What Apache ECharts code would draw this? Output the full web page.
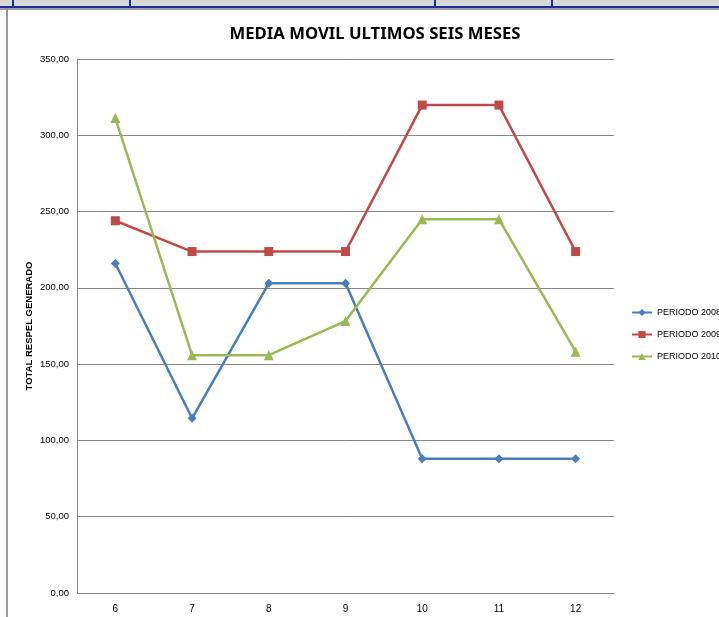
<!DOCTYPE html>
<html>
<head>
<meta charset="utf-8">
<style>
  html, body { margin: 0; padding: 0; background: #ffffff; }
  #chart { width: 719px; height: 617px; }
</style>
<script src="https://cdn.jsdelivr.net/npm/echarts@6/dist/echarts.min.js"></script>
</head>
<body>
<div id="chart"></div>
<script>
// Months (x axis)
const months = ['6', '7', '8', '9', '10', '11', '12'];

// Moving-average totals per period
const periodo2008 = [216.0, 114.5, 203.0, 203.0, 88.0, 88.0, 88.0];
const periodo2009 = [244.0, 223.8, 223.8, 223.8, 319.8, 319.8, 223.8];
const periodo2010 = [311.3, 155.9, 155.9, 178.2, 245.0, 245.0, 158.2];

const seriesNames = ['PERIODO 2008', 'PERIODO 2009', 'PERIODO 2010'];
const seriesColors = ['#4a7ebb', '#be4b48', '#98b954'];
const seriesSymbols = ['diamond', 'rect', 'triangle'];
const seriesSymbolSizes = [9, 9, 10];

const chart = echarts.init(document.getElementById('chart'), null, { renderer: 'canvas' });

const fmt = v => v.toFixed(2).replace('.', ',');

const option = {
  backgroundColor: '#ffffff',
  animation: false,
  title: {
    text: 'MEDIA MOVIL ULTIMOS SEIS MESES',
    left: 370,
    top: 21,
    textAlign: 'center',
    textStyle: {
      fontFamily: 'Noto Sans',
      fontWeight: 'bold',
      fontSize: 16.7,
      color: '#000000'
    }
  },
  legend: {
    orient: 'vertical',
    left: 626,
    top: 303,
    itemGap: 13,
    itemWidth: 20,
    itemHeight: 9,
    textStyle: { fontFamily: 'Liberation Sans', fontSize: 9, color: '#000000' },
    data: seriesNames
  },
  grid: { left: 77, top: 59, width: 537, height: 534 },
  xAxis: {
    type: 'category',
    data: months,
    boundaryGap: true,
    axisLine: { lineStyle: { color: '#888888', width: 1 } },
    axisTick: { show: false },
    axisLabel: { fontFamily: 'Liberation Sans', fontSize: 10, color: '#000000', margin: 11 },
    splitLine: { show: false }
  },
  yAxis: {
    type: 'value',
    min: 0,
    max: 350,
    interval: 50,
    name: 'TOTAL RESPEL GENERADO',
    nameLocation: 'middle',
    nameGap: 43,
    nameMoveOverlap: false,
    nameTextStyle: { fontFamily: 'Liberation Sans', fontWeight: 'bold', fontSize: 9.5, color: '#000000' },
    axisLine: { show: true, lineStyle: { color: '#888888', width: 1 } },
    axisTick: { show: false },
    axisLabel: { fontFamily: 'Liberation Sans', fontSize: 9.5, color: '#000000', margin: 8, formatter: fmt },
    splitLine: { lineStyle: { color: '#888888', width: 1 } }
  },
  graphic: [
    // spreadsheet header band above the chart
    { type: 'rect', shape: { x: 0, y: 0, width: 719, height: 7 }, style: { fill: '#d8d8d8' }, z: 10 },
    { type: 'rect', shape: { x: 0, y: 6, width: 719, height: 2 }, style: { fill: '#1f2f9a' }, z: 11 },
    { type: 'rect', shape: { x: 0, y: 8, width: 719, height: 2 }, style: { fill: '#a0a0a0' }, z: 11 },
    { type: 'rect', shape: { x: 12, y: 0, width: 2, height: 8 }, style: { fill: '#1f2f9a' }, z: 11 },
    { type: 'rect', shape: { x: 129, y: 0, width: 2, height: 8 }, style: { fill: '#1f2f9a' }, z: 11 },
    { type: 'rect', shape: { x: 434, y: 0, width: 2, height: 8 }, style: { fill: '#1f2f9a' }, z: 11 },
    { type: 'rect', shape: { x: 551, y: 0, width: 2, height: 8 }, style: { fill: '#1f2f9a' }, z: 11 },
    // chart border on the left
    { type: 'rect', shape: { x: 6, y: 8, width: 2, height: 609 }, style: { fill: '#9a9a9a' }, z: 11 }
  ],
  series: [periodo2008, periodo2009, periodo2010].map((data, i) => ({
    name: seriesNames[i],
    type: 'line',
    data: data,
    symbol: seriesSymbols[i],
    symbolSize: seriesSymbolSizes[i],
    showAllSymbol: true,
    lineStyle: { color: seriesColors[i], width: 2.5 },
    itemStyle: { color: seriesColors[i] },
    emphasis: { disabled: true }
  }))
};

chart.setOption(option);
</script>
</body>
</html>
